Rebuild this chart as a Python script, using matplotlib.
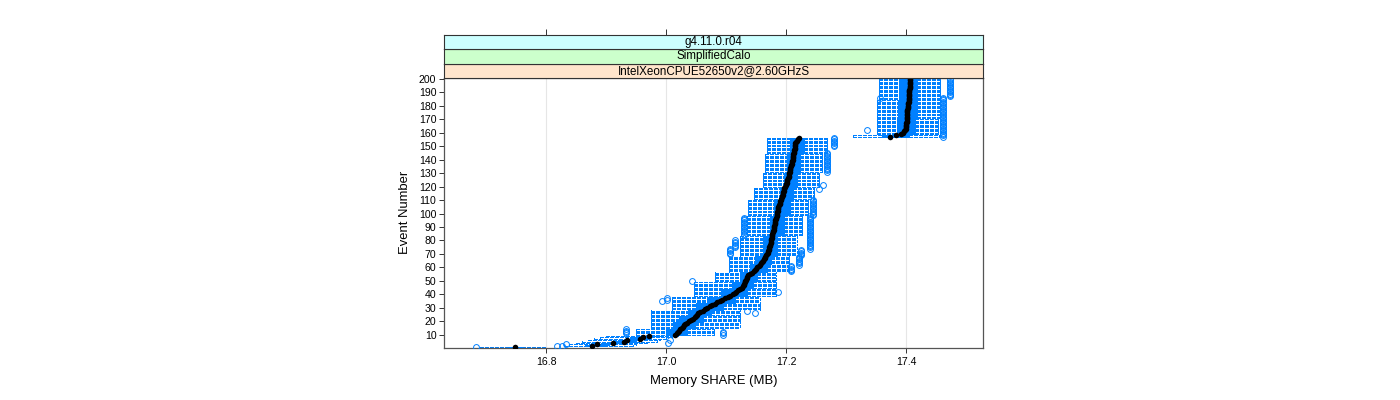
import numpy as np
import matplotlib
matplotlib.use("Agg")
import matplotlib.pyplot as plt
from matplotlib.collections import LineCollection

plt.rcParams['font.family'] = ['Liberation Sans', 'DejaVu Sans']
plt.rcParams['lines.scale_dashes'] = False

# ---------------- data ----------------
events = list(range(1, 201))
median = [
    16.748, 16.877, 16.885, 16.912, 16.930, 16.935, 16.956, 16.961, 16.972, 17.015,
    17.018, 17.020, 17.022, 17.024, 17.026, 17.028, 17.030, 17.032, 17.035, 17.038,
    17.041, 17.045, 17.048, 17.050, 17.052, 17.054, 17.057, 17.061, 17.065, 17.069,
    17.073, 17.077, 17.081, 17.085, 17.089, 17.093, 17.098, 17.103, 17.107, 17.111,
    17.114, 17.117, 17.120, 17.123, 17.126, 17.128, 17.129, 17.130, 17.131, 17.132,
    17.133, 17.134, 17.135, 17.137, 17.140, 17.143, 17.146, 17.148, 17.150, 17.152,
    17.154, 17.156, 17.158, 17.160, 17.162, 17.163, 17.164, 17.165, 17.166, 17.168,
    17.169, 17.170, 17.171, 17.172, 17.172, 17.173, 17.173, 17.174, 17.174, 17.175,
    17.175, 17.176, 17.176, 17.177, 17.177, 17.178, 17.178, 17.179, 17.179, 17.180,
    17.180, 17.181, 17.181, 17.182, 17.182, 17.183, 17.183, 17.184, 17.184, 17.185,
    17.185, 17.186, 17.186, 17.187, 17.187, 17.188, 17.189, 17.190, 17.190, 17.191,
    17.192, 17.193, 17.193, 17.194, 17.194, 17.195, 17.196, 17.196, 17.197, 17.198,
    17.199, 17.200, 17.201, 17.201, 17.202, 17.203, 17.204, 17.204, 17.205, 17.205,
    17.206, 17.206, 17.207, 17.207, 17.208, 17.208, 17.209, 17.210, 17.210, 17.211,
    17.211, 17.212, 17.212, 17.212, 17.213, 17.213, 17.213, 17.214, 17.214, 17.214,
    17.215, 17.215, 17.216, 17.218, 17.219, 17.221,
    17.373, 17.383, 17.392, 17.395,
    17.397, 17.398, 17.399, 17.400, 17.400, 17.400, 17.400, 17.401, 17.401, 17.401,
    17.401, 17.401, 17.402, 17.402, 17.402, 17.402, 17.402, 17.403, 17.403, 17.403,
    17.403, 17.403, 17.404, 17.404, 17.404, 17.404, 17.404, 17.405, 17.405, 17.405,
    17.405, 17.405, 17.406, 17.406, 17.406, 17.406, 17.406, 17.407, 17.407, 17.407,
]

# groups of events sharing the same box / whisker extents
blk_first = [1, 2, 3, 4, 5, 6, 7, 8, 9, 10, 15, 20, 25, 29, 34, 39, 45, 50, 57, 63,
             69, 84, 99, 111, 120, 131, 145, 157, 159, 171, 185]
blk_last  = [1, 2, 3, 4, 5, 6, 7, 8, 9, 14, 19, 24, 28, 33, 38, 44, 49, 56, 62, 68,
             83, 98, 110, 119, 130, 144, 156, 158, 170, 184, 200]
blk_lo = [16.690, 16.830, 16.838, 16.850, 16.860, 16.870, 16.880, 16.890, 16.900, 16.950,
          16.975, 16.975, 16.975, 17.010, 17.010, 17.046, 17.046, 17.082, 17.104, 17.104,
          17.123, 17.134, 17.137, 17.146, 17.162, 17.165, 17.168, 17.312, 17.351, 17.351, 17.354]
blk_q1 = [16.738, 16.865, 16.873, 16.898, 16.915, 16.920, 16.940, 16.945, 16.955, 17.000,
          17.012, 17.022, 17.036, 17.050, 17.068, 17.092, 17.110, 17.123, 17.140, 17.148,
          17.162, 17.173, 17.179, 17.190, 17.196, 17.201, 17.207, 17.360, 17.385, 17.387, 17.388]
blk_q3 = [16.760, 16.897, 16.905, 16.930, 16.950, 16.955, 16.970, 16.975, 16.990, 17.035,
          17.048, 17.062, 17.075, 17.095, 17.115, 17.135, 17.145, 17.151, 17.168, 17.175,
          17.184, 17.196, 17.207, 17.212, 17.218, 17.223, 17.229, 17.405, 17.415, 17.418, 17.418]
blk_hi = [16.800, 16.945, 16.950, 16.970, 16.985, 16.990, 17.000, 17.010, 17.020, 17.080,
          17.123, 17.123, 17.123, 17.157, 17.157, 17.183, 17.183, 17.183, 17.204, 17.204,
          17.218, 17.226, 17.236, 17.246, 17.254, 17.259, 17.268, 17.455, 17.453, 17.457, 17.457]

# outliers: value repeated for each event in [first, last]
out_first = [1, 2, 2, 3, 4, 6, 11, 10, 26, 28, 35, 36, 42, 50, 57, 62, 69, 70, 75, 74, 99, 84, 118, 121, 131, 150, 162, 186, 157, 187]
out_last  = [1, 2, 2, 3, 4, 6, 14, 12, 26, 28, 35, 37, 42, 50, 61, 68, 73, 74, 80, 98, 110, 97, 118, 121, 145, 156, 162, 186, 186, 200]
out_value = [16.683, 16.818, 16.826, 16.833, 17.003, 17.006, 16.934, 17.094, 17.148, 17.134,
             16.994, 17.001, 17.187, 17.043, 17.208, 17.222, 17.224, 17.106, 17.114, 17.240,
             17.245, 17.129, 17.254, 17.262, 17.268, 17.279, 17.335, 17.356, 17.462, 17.473]

x_ticks = [16.8, 17.0, 17.2, 17.4]
y_ticks = list(range(10, 201, 10))
strip_labels = ["IntelXeonCPUE52650v2@2.60GHzS", "SimplifiedCalo", "g4.11.0.r04"]
strip_colors = ["#FFE5CC", "#CCFFCC", "#CCFFFF"]

# ---------------- figure ----------------
W, H = 1400, 400
fig = plt.figure(figsize=(14, 4), dpi=100)
L, R, T, B = 444, 983, 78, 347.7
ax = fig.add_axes([L / W, 1 - B / H, (R - L) / W, (B - T) / H])
ax.set_xlim(16.63, 17.528)
ax.set_ylim(0.4, 200.6)

blue = "#0080ff"
lw = 0.72
bh = 0.25  # half box height (box.ratio = 1)

box_segs, wh_segs, cap_segs = [], [], []
for f, l, lo, q1, q3, hi in zip(blk_first, blk_last, blk_lo, blk_q1, blk_q3, blk_hi):
    for e in range(f, l + 1):
        box_segs.append([(q1, e - bh), (q3, e - bh), (q3, e + bh), (q1, e + bh), (q1, e - bh)])
        wh_segs.append([(lo, e), (q1, e)])
        wh_segs.append([(q3, e), (hi, e)])
        cap_segs.append([(lo, e - bh), (lo, e + bh)])
        cap_segs.append([(hi, e - bh), (hi, e + bh)])

ax.add_collection(LineCollection(wh_segs, colors=blue, linewidths=lw, antialiaseds=False,
                                 linestyles=[(0, (2.2, 1.1))], zorder=2))
ax.add_collection(LineCollection(cap_segs, colors=blue, linewidths=lw, antialiaseds=False, zorder=2))
ax.add_collection(LineCollection(box_segs, colors=blue, linewidths=lw, antialiaseds=False, zorder=3))

ox, oy = [], []
for f, l, v in zip(out_first, out_last, out_value):
    for e in range(f, l + 1):
        ox.append(v)
        oy.append(e)
ax.plot(ox, oy, linestyle='none', marker='o', ms=4.2, mfc='none', mec=blue, mew=0.7, zorder=4)

ax.plot(median, events, linestyle='none', marker='o', ms=4.0, mfc='black', mec='black', mew=0, zorder=5)

for xv in x_ticks:
    ax.axvline(xv, color='#e6e6e6', lw=0.8, zorder=0)

ax.set_xticks(x_ticks)
ax.set_xticklabels([f"{v:.1f}" for v in x_ticks])
ax.set_yticks(y_ticks)
ax.set_yticklabels([str(v) for v in y_ticks])
ax.tick_params(axis='both', direction='out', length=3.5, width=0.7, colors='#333333',
               labelsize=7.6, labelcolor='black')
ax.tick_params(axis='x', pad=3)
ax.tick_params(axis='y', pad=2)
for s in ax.spines.values():
    s.set_color('#555555')
    s.set_linewidth(0.9)

ax.set_xlabel("Memory SHARE (MB)", fontsize=9.4, labelpad=6)
ax.set_ylabel("Event Number", fontsize=9.4, labelpad=6)

# strips
sh = 14.4
for i, (lab, col) in enumerate(zip(strip_labels, strip_colors)):
    top = T - sh * (i + 1)
    sax = fig.add_axes([L / W, 1 - (top + sh) / H, (R - L) / W, sh / H])
    sax.set_facecolor(col)
    sax.set_xlim(16.63, 17.528)
    sax.set_ylim(0, 1)
    sax.set_yticks([])
    if i == 2:
        sax.set_xticks(x_ticks)
        sax.tick_params(axis='x', top=True, bottom=False, labeltop=False, labelbottom=False,
                        direction='out', length=4, width=0.7, colors='#333333')
    else:
        sax.set_xticks([])
    for s in sax.spines.values():
        s.set_color('#333333')
        s.set_linewidth(0.8)
    sax.text(0.5, 0.5, lab, transform=sax.transAxes, ha='center', va='center', fontsize=8.4)

fig.savefig("out.png", dpi=100)
